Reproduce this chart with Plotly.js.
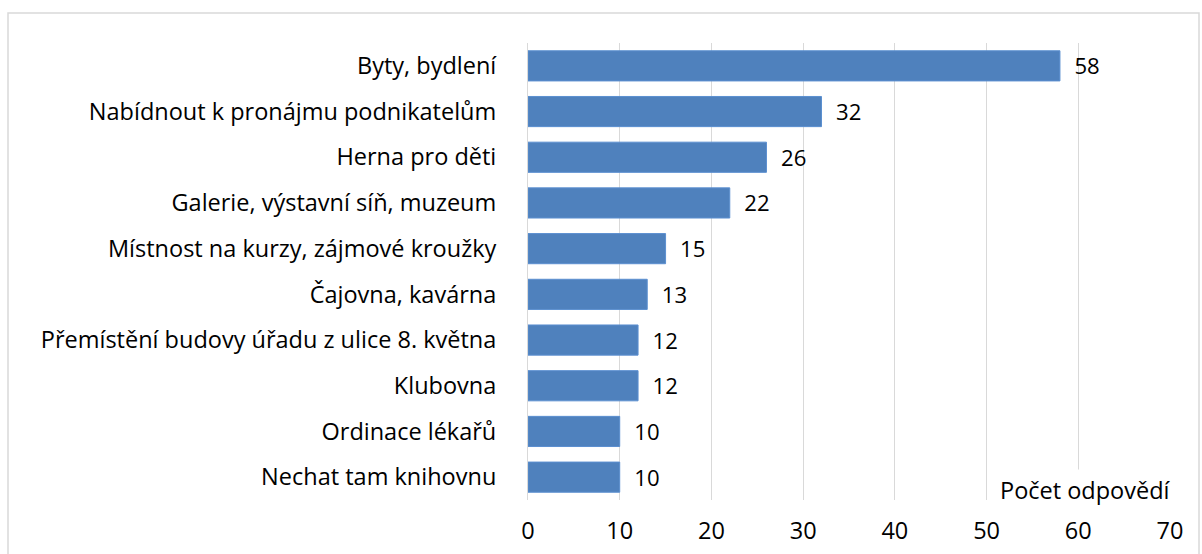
<!DOCTYPE html>
<html><head><meta charset="utf-8">
<script src="https://cdn.plot.ly/plotly-3.0.1.min.js"></script>
<style>html,body{margin:0;padding:0;background:#fff;}#chart{width:1202px;height:554px;}</style>
</head><body><div id="chart"></div>
<script>
const categories = ["Byty, bydlení","Nabídnout k pronájmu podnikatelům","Herna pro děti","Galerie, výstavní síň, muzeum","Místnost na kurzy, zájmové kroužky","Čajovna, kavárna","Přemístění budovy úřadu z ulice 8. května","Klubovna","Ordinace lékařů","Nechat tam knihovnu"];
const values = [58,32,26,22,15,13,12,12,10,10];
const tickValues = [0,10,20,30,40,50,60,70];
const axisLabel = "Počet odpovědí";

const font = "Open Sans, Carlito, Calibri, sans-serif";
const fs = 23.5;
const trace = {
  type: "bar", orientation: "h",
  y: categories, x: values,
  text: values.map(v => "\u00a0\u00a0" + v), textposition: "outside", cliponaxis: false,
  textfont: {family: font, size: fs, color: "#000"},
  marker: {color: "#4f81bd", line: {color: "#5b8fd0", width: 1}},
  hoverinfo: "none"
};
const layout = {
  width: 1202, height: 554,
  margin: {l: 528, r: 32, t: 43, b: 54},
  paper_bgcolor: "#fff", plot_bgcolor: "#fff",
  showlegend: false, bargap: 0.34,
  font: {family: font, size: fs, color: "#000"},
  uniformtext: {mode: false},
  xaxis: {range: [0, 70], tickvals: tickValues, ticktext: tickValues.map(String),
    showgrid: true, gridcolor: "#d9d9d9", gridwidth: 1, zeroline: false,
    showline: false, ticks: "", ticklen: 0, ticklabelstandoff: 14,
    tickfont: {family: font, size: fs, color: "#000"}},
  yaxis: {autorange: "reversed", ticks: "", showgrid: false, zeroline: false,
    showline: true, linecolor: "#d9d9d9", linewidth: 1, ticklabelstandoff: 26,
    tickfont: {family: font, size: fs, color: "#000"}},
  annotations: [{text: axisLabel, xref: "paper", yref: "paper", x: 1.01, y: 0.022,
    xanchor: "right", yanchor: "middle", showarrow: false, bgcolor: "#fff", borderpad: 4,
    font: {family: font, size: fs, color: "#000"}}],
  shapes: [{type: "rect", xref: "paper", yref: "paper",
    x0: (8-528)/642, x1: (1199-528)/642, y0: -0.2, y1: 1+(43-13)/457,
    line: {color: "#d9d9d9", width: 1.5}, fillcolor: "rgba(0,0,0,0)", layer: "below"}]
};
Plotly.newPlot("chart", [trace], layout, {displayModeBar: false, staticPlot: true});
</script></body></html>
